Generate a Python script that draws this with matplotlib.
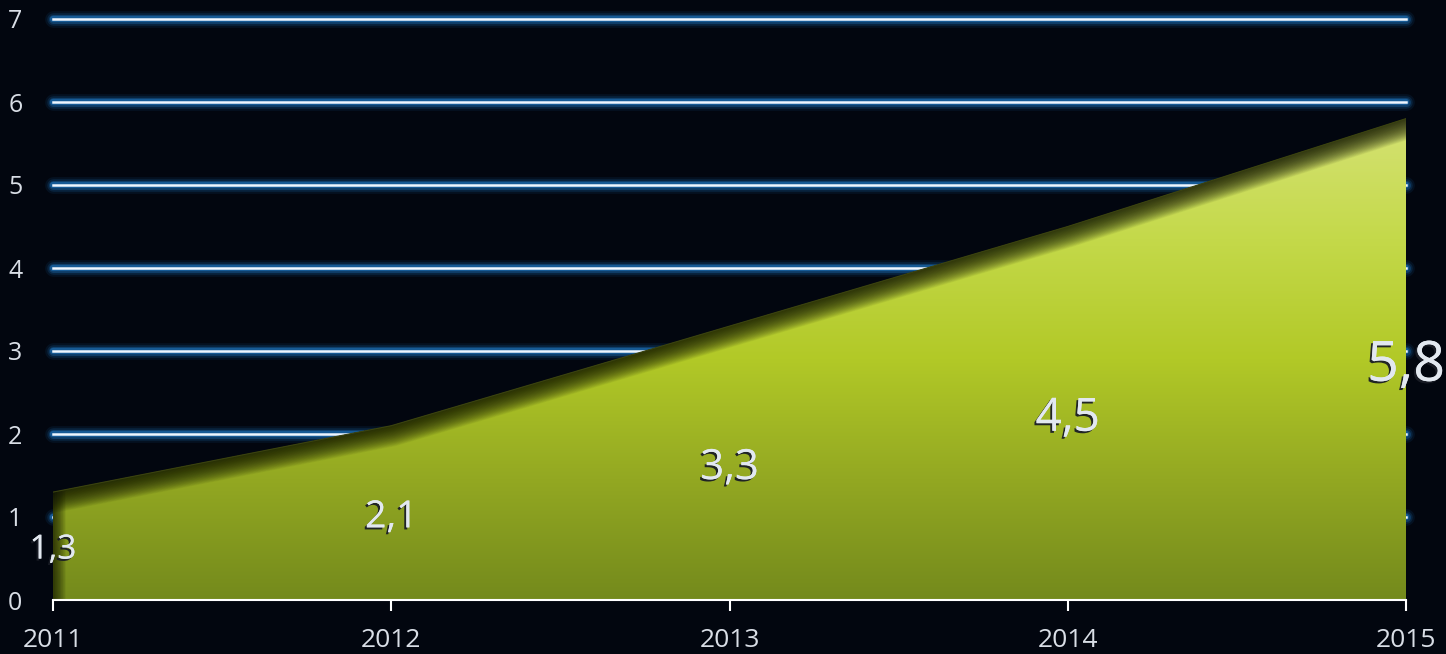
import matplotlib
matplotlib.use('Agg')
import matplotlib.pyplot as plt
import matplotlib.patheffects as pe
from matplotlib.colors import LinearSegmentedColormap
from matplotlib.patches import Polygon
import numpy as np

# Datos
years = [2011, 2012, 2013, 2014, 2015]
values = [1.3, 2.1, 3.3, 4.5, 5.8]
labels = ['1,3', '2,1', '3,3', '4,5', '5,8']
label_sizes = [24, 27, 30, 33, 40]
y_ticks = [0, 1, 2, 3, 4, 5, 6, 7]

bg = '#02060f'
text_col = '#d9dee6'

fig = plt.figure(figsize=(14.46, 6.54), dpi=100, facecolor=bg)
ax = fig.add_axes([53 / 1446, 54 / 654, (1406 - 53) / 1446, (600 - 19) / 654])
ax.set_facecolor(bg)
ax.set_xlim(years[0], years[-1])
ax.set_ylim(0, 7)

# Líneas de la cuadrícula con brillo azul
for yv in y_ticks[1:]:
    for lw, a in [(12, 0.10), (9, 0.18), (6.5, 0.30), (4.5, 0.50)]:
        ax.plot([years[0], years[-1]], [yv, yv], color='#1f78c4', lw=lw,
                alpha=a, solid_capstyle='round', zorder=1, clip_on=False)
    ax.plot([years[0], years[-1]], [yv, yv], color='#eef6ff', lw=1.8,
            zorder=2, clip_on=False)

# Área con degradado
verts = [(years[0], 0)] + list(zip(years, values)) + [(years[-1], 0)]
poly = Polygon(verts, closed=True, facecolor='none', edgecolor='none')
ax.add_patch(poly)
cmap = LinearSegmentedColormap.from_list('g', [
    (0.0, '#748a1c'), (0.25, '#93a822'), (0.5, '#b2c927'),
    (0.75, '#c4d94a'), (1.0, '#d5e274')])
grad = np.linspace(0, 1, 256).reshape(-1, 1)
img = ax.imshow(grad, cmap=cmap, origin='lower', aspect='auto',
                extent=[years[0], years[-1], 0, max(values)], zorder=3)
img.set_clip_path(poly)

# Sombra suave en el borde superior e izquierdo
for lw in np.linspace(30, 1, 30):
    ln, = ax.plot(years, values, color='#141804', lw=lw, alpha=0.05,
                  solid_joinstyle='round', zorder=4)
    ln.set_clip_path(poly)
for lw in np.linspace(18, 1, 20):
    ln2, = ax.plot([years[0], years[0]], [0, values[0]], color='#141804',
                   lw=lw, alpha=0.05, zorder=4)
    ln2.set_clip_path(poly)
ax.plot(years, values, color='#3a4210', lw=0.8, zorder=5)

# Etiquetas de datos
for x, v, lab, fs in zip(years, values, labels, label_sizes):
    ax.text(x, v / 2, lab, ha='center', va='center_baseline', fontsize=fs,
            color='#e2e8f0', family='Open Sans', zorder=6, clip_on=False,
            path_effects=[pe.withSimplePatchShadow(offset=(-1.5, -1.5),
                                                   shadow_rgbFace='#1a1d26',
                                                   alpha=0.95),
                          pe.Normal()])

# Ejes
for s in ['top', 'right', 'left']:
    ax.spines[s].set_visible(False)
ax.spines['bottom'].set_color('white')
ax.spines['bottom'].set_linewidth(1.5)
ax.spines['bottom'].set_zorder(7)
ax.set_xticks(years)
ax.set_xticklabels([str(y) for y in years])
ax.set_yticks(y_ticks)
ax.tick_params(axis='x', colors='white', length=8, width=1.5, pad=12,
               labelcolor=text_col, labelsize=19)
ax.tick_params(axis='y', length=0, pad=22, labelcolor=text_col, labelsize=18)
for t in ax.get_xticklabels() + ax.get_yticklabels():
    t.set_family('Open Sans')

fig.savefig('out.png', dpi=100, facecolor=bg)
